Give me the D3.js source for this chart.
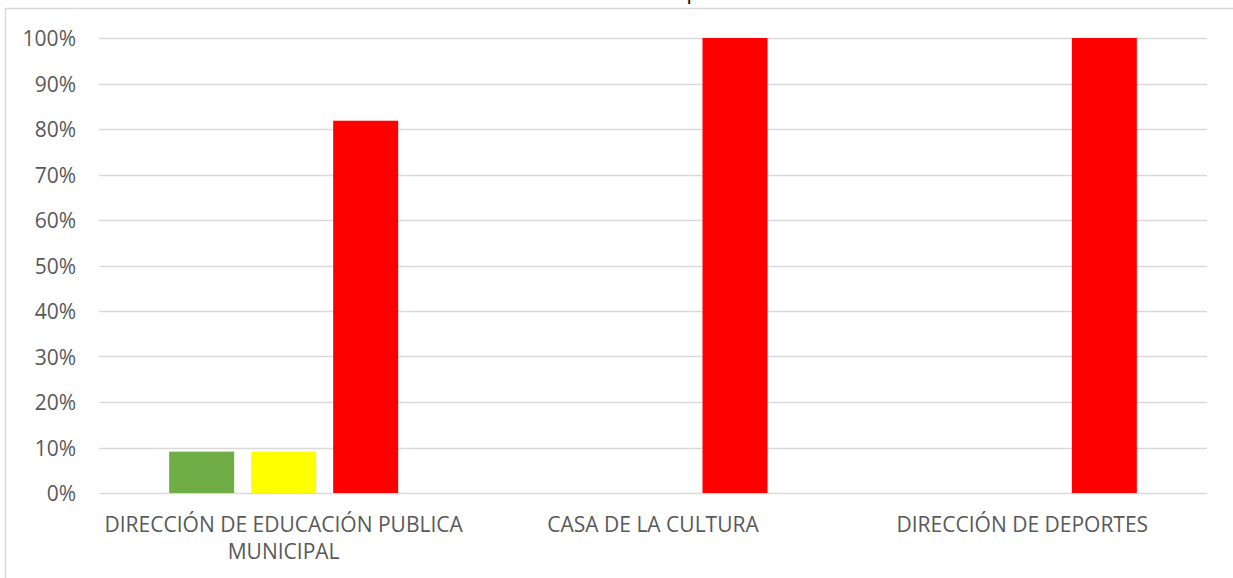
<!DOCTYPE html>
<html><head><meta charset="utf-8">
<script src="https://cdn.jsdelivr.net/npm/d3@7"></script>
<style>body{margin:0;background:#fff;}svg{display:block;font-family:"Open Sans",Lato,sans-serif;}</style>
</head><body><svg id="c" width="1233" height="578"></svg>
<script>
const categories = ["DIRECCIÓN DE EDUCACIÓN PUBLICA MUNICIPAL", "CASA DE LA CULTURA", "DIRECCIÓN DE DEPORTES"];
const seriesNames = ["Verde", "Amarillo", "Rojo"];
const seriesColors = ["#70ad47", "#ffff00", "#ff0000"];
const verde = [0.0909, 0, 0];
const amarillo = [0.0909, 0, 0];
const rojo = [0.8182, 1, 1];
const yTicks = [0, 0.1, 0.2, 0.3, 0.4, 0.5, 0.6, 0.7, 0.8, 0.9, 1.0];
const series = [verde, amarillo, rojo];

(function(){
const svg = d3.select("#c");
const W = 1233, H = 578;
const mLeft = 99, mRight = 1207, mTop = 38, mBottom = 493;

// chart border
svg.append("rect").attr("x", 5.5).attr("y", 8.5).attr("width", W + 10).attr("height", H + 10)
  .attr("fill", "none").attr("stroke", "#d9d9d9").attr("stroke-width", 1.5);

// clipped title descender
svg.append("text").attr("x", 693).attr("y", -1).attr("text-anchor", "middle")
  .attr("font-size", 21).attr("fill", "#000").text("p");

const x0 = d3.scaleBand().domain(categories).range([mLeft, mRight]).paddingInner(0).paddingOuter(0);
const y = d3.scaleLinear().domain([0, 1]).range([mBottom, mTop]);

// gridlines
svg.append("g").selectAll("line").data(yTicks).join("line")
  .attr("x1", mLeft).attr("x2", mRight)
  .attr("y1", d => Math.round(y(d)) + 0.5).attr("y2", d => Math.round(y(d)) + 0.5)
  .attr("stroke", "#d9d9d9").attr("stroke-width", 1.5);

// y axis labels
const yAxis = d3.axisLeft(y).tickValues(yTicks).tickFormat(d3.format(".0%")).tickSize(0).tickPadding(0);
const gy = svg.append("g").attr("transform", `translate(76,1)`).call(yAxis);
gy.select(".domain").remove();
gy.selectAll("text").attr("font-size", 21).attr("fill", "#595959").attr("font-family", "'Open Sans',sans-serif");

// bars
const bw = x0.bandwidth();
const barW = 65, gap = 17;
const x1 = d3.scaleBand().domain(d3.range(series.length)).range([-(barW*1.5+gap), barW*1.5+gap]).paddingInner(gap/(barW+gap)).paddingOuter(0);
categories.forEach((c, i) => {
  const cx = x0(c) + bw / 2;
  series.forEach((s, j) => {
    if (s[i] <= 0) return;
    svg.append("rect")
      .attr("x", cx + x1(j)).attr("width", x1.bandwidth())
      .attr("y", y(s[i])).attr("height", y(0) - y(s[i]))
      .attr("fill", seriesColors[j]);
  });
});

// x labels
const xl = svg.append("g");
const wrapped = {"DIRECCIÓN DE EDUCACIÓN PUBLICA MUNICIPAL": ["DIRECCIÓN DE EDUCACIÓN PUBLICA", "MUNICIPAL"]};
categories.forEach(c => {
  const lines = wrapped[c] || [c];
  const t = xl.append("text").attr("x", x0(c) + bw / 2).attr("y", 532)
    .attr("text-anchor", "middle").attr("font-size", 21).attr("fill", "#595959");
  lines.forEach((l, k) => t.append("tspan").attr("x", x0(c) + bw / 2).attr("dy", k === 0 ? 0 : 27).text(l));
});
})();
</script></body></html>
